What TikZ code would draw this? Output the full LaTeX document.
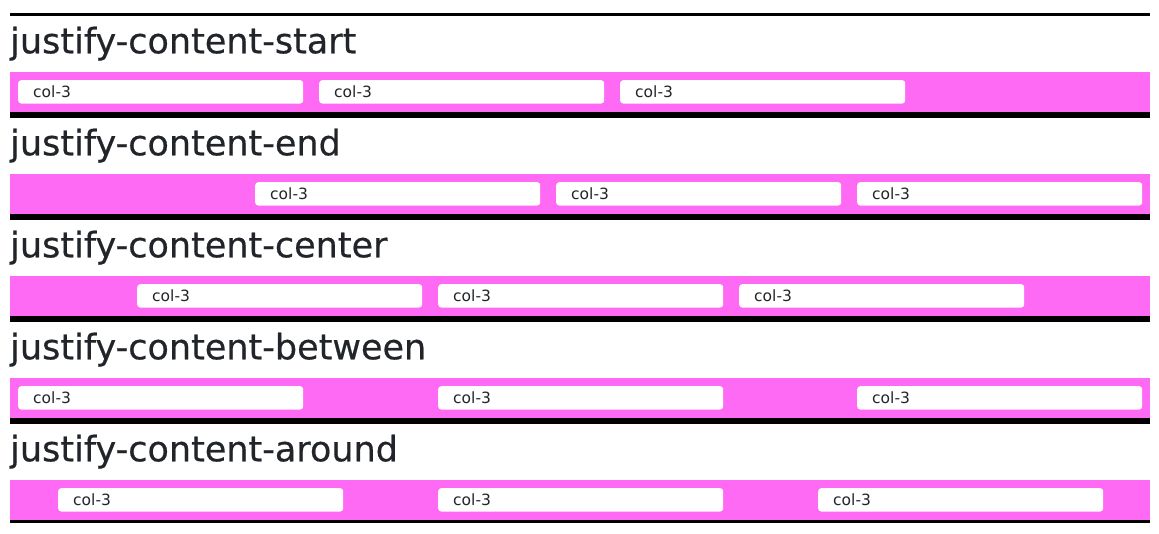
\documentclass[tikz,border=0pt]{standalone}
\usepackage{fontspec}
\setmainfont{DejaVu Sans}
\newfontfamily\headfont[FakeBold=0.5]{DejaVu Sans}
\usetikzlibrary{positioning}
\definecolor{bandpink}{HTML}{FF6AF4}
\definecolor{textdark}{HTML}{212529}

\begin{document}
\begin{tikzpicture}[
        x=1pt, y=-1pt,
        heading/.style={anchor=base west, inner sep=0pt, text=textdark, font=\headfont\fontsize{35}{42}\selectfont},
        band/.style={rectangle, fill=bandpink, minimum width=1140pt, minimum height=40pt, inner sep=0pt, anchor=north west},
        colbox/.style={rectangle, fill=white, rounded corners=3pt, text width=255pt, minimum height=23.3pt, inner xsep=15pt, inner ysep=0pt, align=left, anchor=north west, text=textdark, font=\fontsize{15.5}{18}\selectfont},
        rule/.style={fill=black}
    ]
    \useasboundingbox (0,0) rectangle (1159,533);
    
    % sections: name / left edges of the three boxes
    \foreach \i/\name/\xa/\xb/\xc in {0/start/18/319/620, 1/end/255/556/857, 2/center/137/438/739, 3/between/18/438/857, 4/around/58/438/818} {
        \pgfmathsetmacro\s{13.3+102*\i}
        % top and bottom borders
        \fill[rule] (10,\s) rectangle (1150,\s+2.3);
        \fill[rule] (10,\s+98.4) rectangle (1150,\s+101.7);
        % heading
        \node[heading] (head-\name) at (10,\s+40) {justify-content-\name};
        % pink row
        \node[band] (band-\name) at (10,\s+58.4) {};
        % the three columns
        \foreach \x [count=\k] in {\xa,\xb,\xc}
            \node[colbox] (col-\name-\k) at (\x,\s+66.7) {col-3};
    }
    
\end{tikzpicture}
\end{document}
